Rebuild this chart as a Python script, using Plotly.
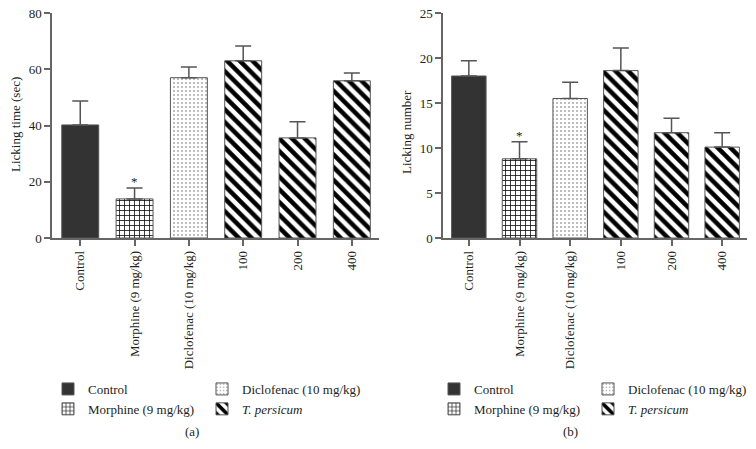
import plotly.graph_objects as go

categories = ["Control", "Morphine (9 mg/kg)", "Diclofenac (10 mg/kg)", "100", "200", "400"]
groups = ["Control", "Morphine (9 mg/kg)", "Diclofenac (10 mg/kg)", "<i>T. persicum</i>"]
group_index = [0, 1, 2, 3, 3, 3]

time_means = [40.2, 13.9, 57.0, 63.0, 35.6, 55.9]
time_sem = [8.5, 3.9, 3.8, 5.3, 5.7, 2.8]
num_means = [18.0, 8.8, 15.5, 18.6, 11.7, 10.1]
num_sem = [1.7, 1.9, 1.8, 2.5, 1.6, 1.6]
significant = [False, True, False, False, False, False]

# page has an 8px body margin; figure drawn 8px smaller and coordinates offset
OFF = 8
W, H = 748, 433
FONT = "Liberation Serif"
TXT = "#231f20"
AX = "#666666"

def px(x):
    return (x - OFF) / W

def py(y):
    return 1 - (y - OFF) / H

patterns = [
    dict(shape=""),
    dict(shape="+", size=5, solidity=0.3, fgcolor="#111111", bgcolor="white", fgopacity=1),
    dict(shape=".", size=4, solidity=0.1, fgcolor="#555555", bgcolor="white", fgopacity=1),
    dict(shape="\\", size=9, solidity=0.5, fgcolor="black", bgcolor="white", fgopacity=1),
]
fills = ["#333333", "white", "white", "white"]

fig = go.Figure()

def add_panel(means, sems, xa, ya, legends):
    for g, name in enumerate(groups):
        idx = [i for i, gi in enumerate(group_index) if gi == g]
        fig.add_trace(go.Bar(
            x=[categories[i] for i in idx],
            y=[means[i] for i in idx],
            name=name,
            width=0.68,
            marker=dict(color=fills[g], pattern=patterns[g],
                        line=dict(color="#555555", width=1)),
            error_y=dict(type="data", symmetric=False,
                         array=[sems[i] for i in idx],
                         arrayminus=[0] * len(idx),
                         color="#555555", thickness=1.5, width=8),
            xaxis=xa, yaxis=ya,
            legend=legends[0] if g in (0, 1) else legends[1],
            showlegend=True,
            hoverinfo="skip",
        ))
    for i, s in enumerate(significant):
        if s:
            fig.add_annotation(x=categories[i], y=means[i] + sems[i], xref=xa, yref=ya,
                               text="*", showarrow=False, yanchor="bottom", yshift=-3,
                               font=dict(family=FONT, size=13, color=TXT))

add_panel(time_means, time_sem, "x", "y", ("legend", "legend2"))
add_panel(num_means, num_sem, "x2", "y2", ("legend3", "legend4"))

ydom = [py(238), py(13)]
axis_common = dict(showline=True, linecolor=AX, linewidth=1.5, ticks="outside",
                   ticklen=6, tickwidth=1.5, tickcolor=AX, showgrid=False, zeroline=False,
                   tickfont=dict(family=FONT, size=13, color=TXT), automargin=False,
                   ticklabeloverflow="allow")

fig.update_layout(
    width=W, height=H,
    margin=dict(l=0, r=0, t=0, b=0),
    paper_bgcolor="white", plot_bgcolor="white",
    barmode="overlay",
    font=dict(family=FONT, size=13, color=TXT),
    xaxis=dict(domain=[px(52), px(379)], type="category", range=[-0.52, 5.5],
               tickangle=-90, anchor="y", **axis_common),
    yaxis=dict(domain=ydom, range=[0, 80], dtick=20, anchor="x", **axis_common),
    xaxis2=dict(domain=[px(443), px(747)], type="category", range=[-0.51, 5.49],
                tickangle=-90, anchor="y2", **axis_common),
    yaxis2=dict(domain=ydom, range=[0, 25], dtick=5, anchor="x2", **axis_common),
)

leg_common = dict(yanchor="top", xanchor="left", y=py(374),
                  font=dict(family=FONT, size=13, color=TXT),
                  bgcolor="rgba(0,0,0,0)", tracegroupgap=0, itemclick=False,
                  itemdoubleclick=False)
fig.update_layout(
    legend=dict(x=px(48), **leg_common),
    legend2=dict(x=px(202), **leg_common),
    legend3=dict(x=px(434), **leg_common),
    legend4=dict(x=px(588), **leg_common),
)

def label(x, y, text, angle=0):
    fig.add_annotation(x=px(x), y=py(y), xref="paper", yref="paper",
                       xanchor="center", yanchor="middle",
                       text=text, textangle=angle, showarrow=False,
                       font=dict(family=FONT, size=13, color=TXT))

label(15, 125, "Licking time (sec)", -90)
label(407, 132, "Licking number", -90)
label(192, 431, "(a)")
label(570, 431, "(b)")

fig.write_html("out.html")
